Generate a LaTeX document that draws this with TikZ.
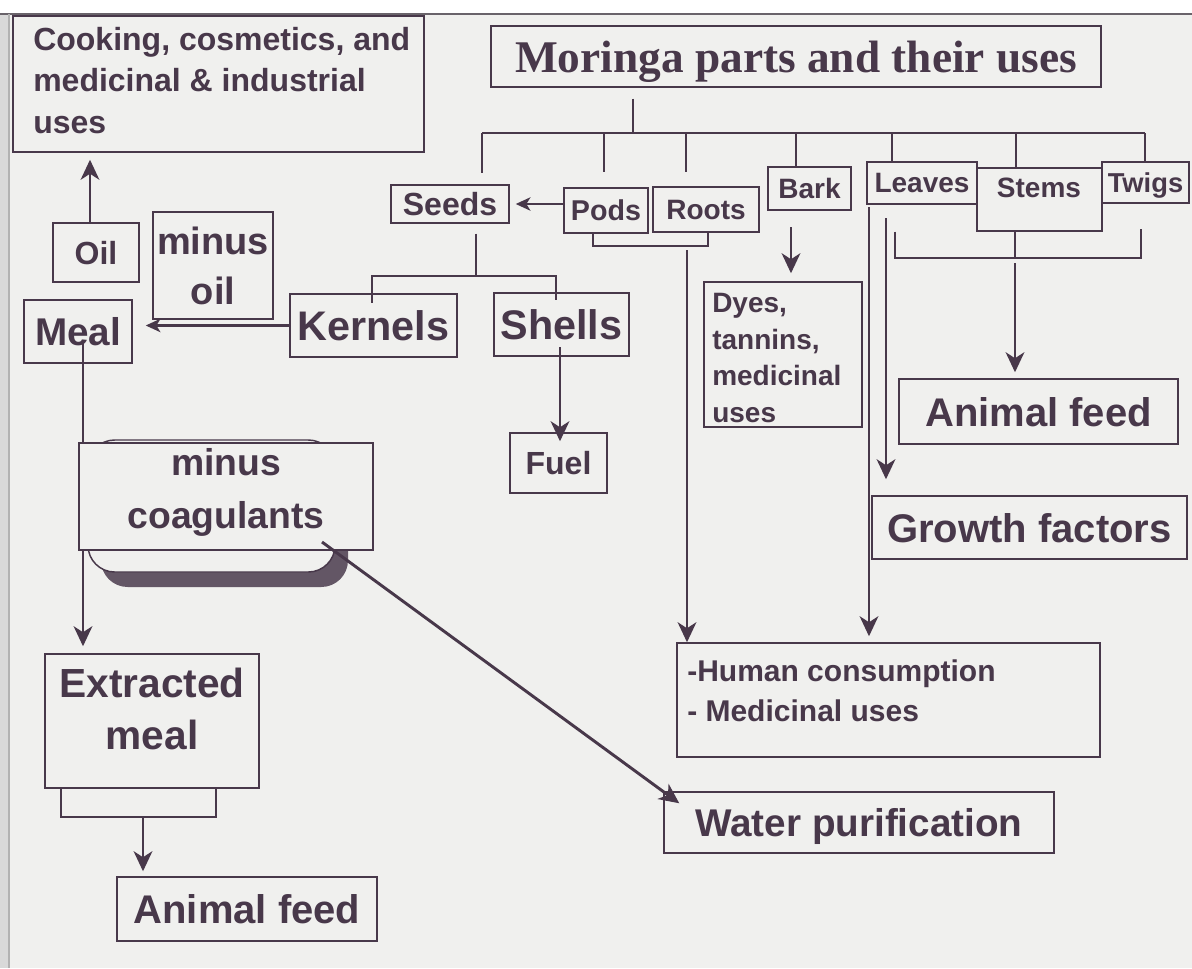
\documentclass[tikz,border=0pt]{standalone}
\usepackage{fontspec}
\setmainfont{Liberation Sans}
\newfontfamily\serifbold{Liberation Serif}
\usetikzlibrary{arrows.meta}
\definecolor{ink}{RGB}{72,56,74}
\definecolor{paper}{RGB}{240,240,238}
\tikzset{
  box/.style={draw=ink, line width=1.1pt, inner sep=0pt, text=ink, align=center, text depth=0pt},
  rect/.style 2 args={minimum width=#1*0.75pt, minimum height=#2*0.75pt},
  lbl/.style={inner sep=0pt, text=ink},
  link/.style={draw=ink, line width=1.6pt},
  arr/.style={draw=ink, line width=2.2pt, -{Stealth[length=15pt,width=14pt,inset=4.5pt]}},
  sarr/.style={draw=ink, line width=1.8pt, -{Stealth[length=11pt,width=10pt,inset=3pt]}}
}

\begin{document}
\begin{tikzpicture}[x=0.75pt,y=0.75pt,yscale=-1,xscale=1]
        %set diagram left start at 0, width 1192 and height 968
        \useasboundingbox (0,0) rectangle (1192,968);

        %Shape: page
        \fill [paper] (0,14) rectangle (1192,968);
        \fill [gray!30] (0,14) rectangle (9,968);
        \draw [gray!60!ink, line width=1.2pt] (0,14) -- (1192,14);
        \draw [gray!60, line width=0.8pt] (9,14) -- (9,968);

        %Shape: Rectangle [uses]
        \node (uses) [box, rect={411}{136}] at (218.5,84) {};
        % Text Node
        \node (usestxt) [lbl, anchor=north west, align=left, font=\fontsize{24}{31}\selectfont\bfseries] at (33,27) {Cooking, cosmetics, and\\medicinal \& industrial\\uses};
        %Shape: Rectangle [title]
        \node (title) [box, rect={610}{61}, font=\fontsize{34}{40}\selectfont\serifbold\bfseries] at (796,56.5) {Moringa parts and their uses};

        %Shape: Rectangle [oil and meal]
        \node (oil) [box, rect={86}{59}, font=\fontsize{24}{28}\selectfont\bfseries] at (96,252.5) {Oil};
        \node (minusoil) [box, rect={120}{107}, font=\fontsize{28.5}{37.5}\selectfont\bfseries] at (213,265.5) {minus\\oil};
        \node (meal) [box, rect={108}{63}, font=\fontsize{29}{34}\selectfont\bfseries] at (78,331.5) {Meal};
        \node (kernels) [box, rect={167}{63}, font=\fontsize{31}{36}\selectfont\bfseries] at (373.5,325.5) {Kernels};
        \node (shells) [box, rect={135}{63}, font=\fontsize{31}{36}\selectfont\bfseries] at (561.5,324.5) {Shells};
        \node (fuel) [box, rect={97}{60}, font=\fontsize{24}{28}\selectfont\bfseries] at (558.5,463) {Fuel};

        %Shape: Rectangle [parts]
        \node (seeds) [box, rect={118}{38}, font=\fontsize{24}{28}\selectfont\bfseries] at (450,204) {Seeds};
        \node (pods) [box, rect={84}{45}, font=\fontsize{21.5}{25}\selectfont\bfseries] at (606,210.5) {Pods};
        \node (roots) [box, rect={106}{45}, font=\fontsize{21}{25}\selectfont\bfseries] at (706,209.5) {Roots};
        \node (bark) [box, rect={83}{43}, font=\fontsize{21}{25}\selectfont\bfseries] at (809.5,188.5) {Bark};
        \node (leaves) [box, rect={110}{42}, font=\fontsize{21}{25}\selectfont\bfseries] at (922,183) {Leaves};
        \node (stems) [box, rect={125}{63}] at (1039.5,199.5) {};
        % Text Node
        \node (stemstxt) [lbl, font=\fontsize{21}{25}\selectfont\bfseries] at (1039,188) {Stems};
        \node (twigs) [box, rect={87}{41}, font=\fontsize{20.5}{25}\selectfont\bfseries] at (1145.5,182.5) {Twigs};

        %Shape: Rectangle [uses of the parts]
        \node (dyes) [box, rect={158}{145}] at (783,354.5) {};
        % Text Node
        \node (dyestxt) [lbl, anchor=north west, align=left, font=\fontsize{21}{27.4}\selectfont\bfseries] at (712,293) {Dyes,\\tannins,\\medicinal\\uses};
        \node (feedright) [box, rect={279}{65}, font=\fontsize{30}{35}\selectfont\bfseries] at (1038.5,411.5) {Animal feed};
        \node (growth) [box, rect={315}{63}, font=\fontsize{30}{35}\selectfont\bfseries] at (1029.5,527.5) {Growth factors};
        \node (human) [box, rect={423}{114}] at (888.5,700) {};
        % Text Node
        \node (humantxt) [lbl, anchor=north west, align=left, font=\fontsize{22.5}{30}\selectfont\bfseries] at (687,659) {-Human consumption\\- Medicinal uses};
        \node (water) [box, rect={390}{61}, font=\fontsize{29}{34}\selectfont\bfseries] at (859,822.5) {Water purification};

        %Shape: Rounded Rectangle with shadow [coagulants]
        \fill [ink!85, rounded corners=20pt] (101,455) rectangle (348,587);
        \draw [ink, line width=1.1pt, fill=paper, rounded corners=20pt] (88,440) rectangle (335,572);
        \node (coag) [box, fill=paper, rect={294}{107}, text depth=12pt, font=\fontsize{28}{39.75}\selectfont\bfseries] at (226,496.5) {minus\\coagulants};

        %Shape: Rectangle [extracted meal]
        \node (extracted) [box, rect={214}{134}] at (152,721) {};
        % Text Node
        \node (extractedtxt) [lbl, anchor=north, align=center, font=\fontsize{30.5}{39}\selectfont\bfseries] at (152,668) {Extracted\\meal};
        \node (tab) [box, rect={155}{29}] at (138.5,802.5) {};
        \node (feedbottom) [box, rect={260}{64}, font=\fontsize{30}{35}\selectfont\bfseries] at (247,909) {Animal feed};

        %Straight Lines [bus under the title]
        \coordinate (bHub) at (633,133);
        \coordinate (bSeeds) at (482,133);
        \coordinate (bPods) at (604,133);
        \coordinate (bRoots) at (686,133);
        \coordinate (bBark) at (796,133);
        \coordinate (bLeaves) at (892,133);
        \coordinate (bStems) at (1016,133);
        \coordinate (bTwigs) at (1145,133);
        \draw [link, shorten <=8.25pt] (bHub |- title.south) -- (bHub);
        \draw [link] (bSeeds) -- (bTwigs);
        \draw [link, shorten >=8.25pt] (bSeeds) -- (bSeeds |- seeds.north);
        \draw [link, shorten >=11.25pt] (bPods) -- (bPods |- pods.north);
        \draw [link, shorten >=10.5pt] (bRoots) -- (bRoots |- roots.north);
        \draw [link] (bBark) -- (bBark |- bark.north);
        \draw [link] (bLeaves) -- (bLeaves |- leaves.north);
        \draw [link] (bStems) -- (bStems |- stems.north);
        \draw [link] (bTwigs) -- (bTwigs |- twigs.north);

        %Straight Lines [pods and roots]
        \draw [sarr, shorten >=4.5pt] (seeds.east -| pods.west) -- (seeds.east);
        \coordinate (prL) at (593,246);
        \coordinate (prR) at (708,246);
        \draw [link] (prL |- pods.south) -- (prL) -- (prR) -- (prR |- roots.south);
        \coordinate (rootsline) at (687,250);
        \draw [arr] (rootsline) -- (rootsline |- human.north);

        %Straight Lines [bark]
        \coordinate (barkline) at (791,227);
        \draw [arr, shorten >=6pt] (barkline) -- (barkline |- dyes.north);

        %Straight Lines [leaves]
        \coordinate (leafA) at (869,207);
        \coordinate (leafB) at (886,218);
        \draw [arr, shorten >=4.5pt] (leafA) -- (leafA |- human.north);
        \draw [arr, shorten >=12pt] (leafB) -- (leafB |- growth.north);

        %Straight Lines [stems and twigs]
        \coordinate (stL) at (895,258);
        \coordinate (stM) at (1015,258);
        \coordinate (stR) at (1141,258);
        \draw [link, shorten >=18.75pt] (stL |- stems.south) -- (stL) -- (stR) -- (stR |- twigs.south);
        \draw [link] (stM |- stems.south) -- (stM);
        \draw [arr, shorten <=3.75pt, shorten >=4.5pt] (stM) -- (stM |- feedright.north);

        %Straight Lines [seeds]
        \coordinate (skM) at (476,276);
        \coordinate (skL) at (372,276);
        \coordinate (skR) at (556,276);
        \draw [link, shorten <=7.5pt] (skM |- seeds.south) -- (skM);
        \draw [link, shorten <=-7pt, shorten >=-6pt] (skL |- kernels.north) -- (skL) -- (skR) -- (skR |- shells.north);
        \coordinate (shx) at (560,347);
        \draw [arr, shorten >=-6.75pt] (shx) -- (shx |- fuel.north);
        \draw [sarr, shorten >=9.75pt] (kernels.west) -- (kernels.west -| meal.east);

        %Straight Lines [oil and meal]
        \coordinate (oilx) at (90,223);
        \draw [arr, shorten >=5.25pt] (oilx) -- (oilx |- uses.south);
        \coordinate (mealx) at (83,343);
        \draw [link, line width=2.2pt] (mealx) -- (mealx |- coag.north);
        \draw [arr, shorten >=5.25pt] (mealx |- coag.south) -- (mealx |- extracted.north);
        \coordinate (coagout) at (322,542);
        \draw [arr] (coagout) -- ([xshift=12pt,yshift=9pt]water.north west);
        \coordinate (tabx) at (143,817);
        \draw [arr, shorten >=3.75pt] (tabx) -- (tabx |- feedbottom.north);

\end{tikzpicture}
\end{document}
